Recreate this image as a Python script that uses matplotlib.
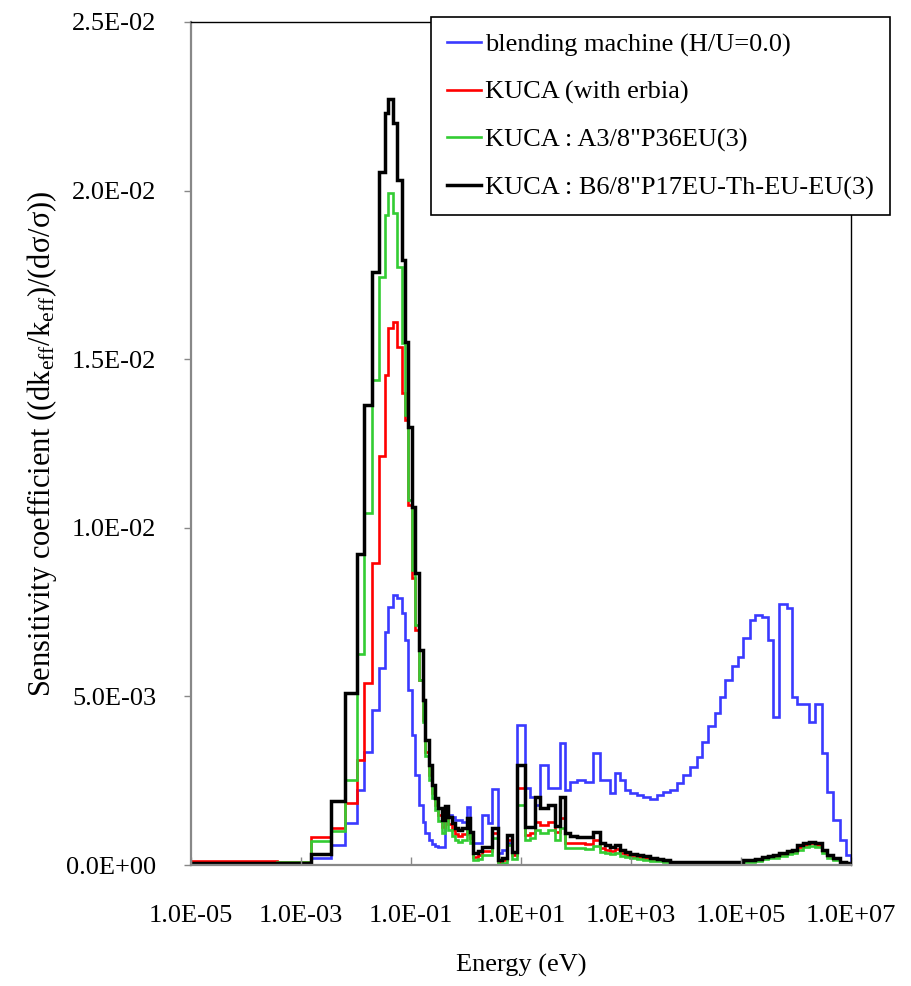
import numpy as np
import matplotlib
matplotlib.use("Agg")
import matplotlib.pyplot as plt
from matplotlib.ticker import NullLocator

plt.rcParams['font.family'] = ['Liberation Serif', 'DejaVu Serif']
plt.rcParams['mathtext.fontset'] = 'custom'
plt.rcParams['mathtext.rm'] = 'Liberation Serif'
plt.rcParams['mathtext.it'] = 'Liberation Serif:italic'

# energy group boundaries, log10(E/eV)
log_edges = [
    -5.00, -3.44, -2.82, -2.45, -2.20, -1.98, -1.85, -1.71, -1.59, -1.47,
    -1.41, -1.33, -1.26, -1.17, -1.11, -1.05, -0.98, -0.92, -0.85, -0.79,
    -0.74, -0.68, -0.62, -0.56, -0.51, -0.44, -0.38, -0.33, -0.25, -0.20,
    -0.15, -0.07, 0.02, 0.07, 0.13, 0.22, 0.29, 0.40, 0.47, 0.58,
    0.65, 0.75, 0.84, 0.93, 1.07, 1.16, 1.25, 1.35, 1.49, 1.62,
    1.71, 1.80, 1.89, 2.02, 2.16, 2.31, 2.44, 2.53, 2.62, 2.71,
    2.80, 2.89, 2.98, 3.11, 3.22, 3.35, 3.47, 3.58, 3.71, 3.84,
    3.95, 4.07, 4.20, 4.29, 4.40, 4.53, 4.62, 4.71, 4.84, 4.95,
    5.04, 5.16, 5.25, 5.38, 5.49, 5.58, 5.69, 5.84, 5.93, 6.02,
    6.13, 6.24, 6.35, 6.47, 6.56, 6.67, 6.80, 6.91, 7.00,
]

# group-wise sensitivity coefficients, in units of 1E-03
blending = [
    0.02, 0.02, 0.21, 0.59, 1.25, 2.22, 3.35, 4.60, 5.84, 6.91,
    7.65, 8.01, 7.92, 7.47, 6.67, 5.19, 3.86, 2.67, 1.78, 1.28,
    0.95, 0.74, 0.62, 0.56, 0.53, 0.53, 1.69, 1.48, 1.42, 1.33,
    1.33, 1.28, 1.72, 0.80, 0.65, 0.65, 1.48, 1.25, 2.25, 0.36,
    0.44, 0.65, 0.36, 4.15, 2.28, 2.02, 1.78, 2.97, 2.28, 2.28,
    3.62, 2.22, 2.46, 2.52, 2.46, 3.32, 2.52, 2.52, 2.14, 2.73,
    2.52, 2.22, 2.14, 2.08, 2.02, 1.96, 2.08, 2.16, 2.22, 2.43,
    2.67, 2.91, 3.20, 3.65, 4.12, 4.51, 4.98, 5.49, 5.90, 6.17,
    6.73, 7.27, 7.41, 7.36, 6.67, 4.39, 7.74, 7.62, 4.98, 4.77,
    4.77, 4.24, 4.77, 3.32, 2.16, 1.33, 0.74, 0.30,
]
kuca_erbia = [
    0.12, 0.10, 0.83, 1.10, 1.84, 3.11, 5.40, 8.96, 12.13, 14.53,
    15.93, 16.10, 15.36, 14.00, 13.20, 10.68, 8.51, 6.97, 5.49, 4.30,
    3.35, 2.67, 2.14, 1.78, 1.48, 1.13, 1.51, 1.22, 1.04, 0.92,
    0.86, 0.92, 1.22, 0.80, 0.24, 0.30, 0.42, 0.42, 0.95, 0.09,
    0.15, 0.74, 0.30, 2.28, 0.89, 0.95, 1.28, 1.19, 1.28, 0.98,
    1.39, 0.65, 0.65, 0.65, 0.62, 0.74, 0.50, 0.44, 0.42, 0.47,
    0.36, 0.30, 0.24, 0.24, 0.21, 0.18, 0.15, 0.12, 0.08, 0.08,
    0.08, 0.08, 0.08, 0.08, 0.08, 0.08, 0.08, 0.08, 0.08, 0.08,
    0.12, 0.13, 0.15, 0.21, 0.24, 0.27, 0.33, 0.38, 0.40, 0.53,
    0.60, 0.64, 0.60, 0.42, 0.27, 0.18, 0.08, 0.05,
]
kuca_a3 = [
    0.03, 0.10, 0.71, 1.01, 2.52, 6.26, 10.44, 14.38, 17.44, 19.28,
    19.93, 19.34, 17.73, 15.48, 13.35, 10.82, 8.75, 7.12, 5.49, 4.24,
    3.23, 2.52, 1.99, 1.63, 1.30, 0.95, 1.33, 1.04, 0.86, 0.74,
    0.68, 0.74, 1.04, 0.65, 0.15, 0.18, 0.30, 0.30, 0.80, 0.03,
    0.06, 0.59, 0.18, 1.78, 0.74, 0.80, 1.04, 0.95, 1.04, 0.74,
    1.10, 0.50, 0.50, 0.50, 0.47, 0.56, 0.39, 0.36, 0.33, 0.36,
    0.27, 0.24, 0.21, 0.18, 0.15, 0.12, 0.12, 0.09, 0.05, 0.05,
    0.05, 0.05, 0.05, 0.05, 0.05, 0.05, 0.05, 0.05, 0.05, 0.05,
    0.09, 0.10, 0.12, 0.17, 0.20, 0.22, 0.27, 0.32, 0.35, 0.45,
    0.52, 0.56, 0.53, 0.36, 0.22, 0.15, 0.06, 0.04,
]
kuca_b6 = [
    0.06, 0.06, 0.33, 1.90, 5.10, 9.22, 13.64, 17.59, 20.55, 22.30,
    22.72, 22.00, 20.31, 17.94, 15.51, 12.99, 10.62, 8.66, 6.38, 4.89,
    3.71, 2.97, 2.37, 1.99, 1.69, 1.33, 1.75, 1.42, 1.25, 1.10,
    1.04, 1.10, 1.39, 0.98, 0.36, 0.42, 0.53, 0.53, 1.10, 0.15,
    0.21, 0.89, 0.39, 2.97, 1.13, 1.13, 2.02, 1.69, 1.78, 1.16,
    2.02, 0.95, 0.86, 0.83, 0.83, 0.98, 0.65, 0.59, 0.53, 0.59,
    0.44, 0.39, 0.33, 0.30, 0.27, 0.21, 0.18, 0.15, 0.10, 0.10,
    0.10, 0.10, 0.10, 0.10, 0.10, 0.10, 0.10, 0.10, 0.10, 0.10,
    0.15, 0.15, 0.18, 0.24, 0.27, 0.30, 0.36, 0.42, 0.45, 0.59,
    0.65, 0.68, 0.65, 0.45, 0.30, 0.21, 0.09, 0.06,
]

labels = [
    'blending machine (H/U=0.0)',
    'KUCA (with erbia)',
    'KUCA : A3/8"P36EU(3)',
    'KUCA : B6/8"P17EU-Th-EU-EU(3)',
]
colors = ['#3a3aff', '#ff0000', '#33cc33', '#000000']
widths = [1.9, 1.9, 1.9, 2.5]

edges = 10.0 ** np.array(log_edges)

fig = plt.figure(figsize=(9.12, 9.86), dpi=100)
ax = fig.add_axes([0.2094, 0.1227, 0.7237, 0.855])

for vals, lab, c, lw in zip([blending, kuca_erbia, kuca_a3, kuca_b6], labels, colors, widths):
    ax.stairs(np.array(vals) * 1e-3, edges, color=c, lw=lw, label=lab)

ax.set_xscale('log')
ax.set_xlim(1e-5, 1e7)
ax.set_ylim(0, 0.025)

xt = [1e-5, 1e-3, 1e-1, 1e1, 1e3, 1e5, 1e7]
ax.set_xticks(xt)
ax.set_xticklabels([f"{t:.1E}" for t in xt])
ax.xaxis.set_minor_locator(NullLocator())
yt = np.arange(0, 0.0251, 0.005)
ax.set_yticks(yt)
ax.set_yticklabels([f"{t:.1E}" for t in yt])

ax.tick_params(axis='x', direction='in', length=6, width=1, color='#888888',
               pad=29, labelsize=19)
ax.tick_params(axis='y', direction='out', length=5, width=1, color='#888888',
               pad=20, labelsize=19)

for s in ['left', 'bottom']:
    ax.spines[s].set_color('#888888')
    ax.spines[s].set_linewidth(1.6)
for s in ['top', 'right']:
    ax.spines[s].set_color('#000000')
    ax.spines[s].set_linewidth(1.0)

ax.set_xlabel('Energy (eV)', fontsize=19)
ax.xaxis.set_label_coords(0.5, -0.105)
ax.set_ylabel('Sensitivity coefficient ((dk$_{\\mathrm{eff}}$/k$_{\\mathrm{eff}}$)/(dσ/σ))',
              fontsize=22)
ax.yaxis.set_label_coords(-0.2, 0.5)

leg = ax.legend(loc='upper left', bbox_to_anchor=(431 / 912, 1 - 17 / 986),
                bbox_transform=fig.transFigure, borderaxespad=0, fontsize=19,
                frameon=True, fancybox=False, shadow=False, handlelength=1.3,
                handletextpad=0.15, labelspacing=0.9, borderpad=0.6)
leg.get_frame().set_edgecolor('black')
leg.get_frame().set_linewidth(1.2)
leg.get_frame().set_alpha(1)

fig.savefig('out.png', dpi=100)
